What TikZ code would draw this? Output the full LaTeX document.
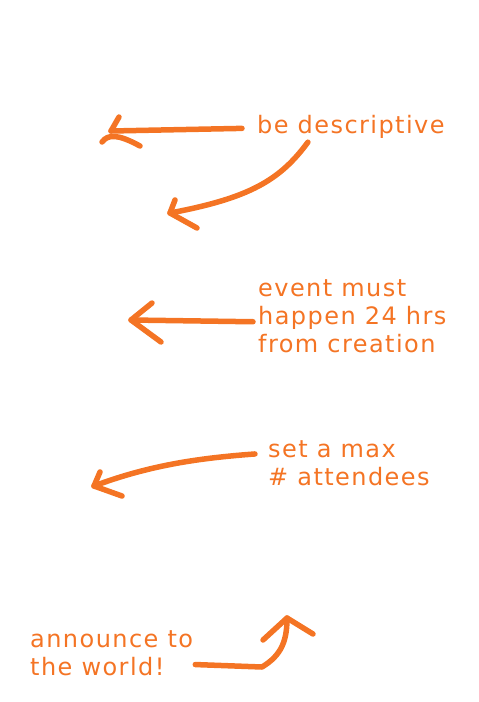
\documentclass[tikz,border=0pt]{standalone}
\usepackage{fontspec}
\setmainfont[LetterSpace=6]{DejaVu Sans}
\usetikzlibrary{positioning}
\definecolor{marker}{HTML}{F47424}

\begin{document}
\begin{tikzpicture}[x=1pt,y=-1pt]
    % Styles for the marker strokes and the notes
    \tikzset{
        pen/.style={draw=marker, line width=5.5pt, line cap=round, line join=round},
        note/.style={text=marker, font=\fontsize{24}{28}\selectfont,
            align=left, inner sep=0pt, anchor=base west}
    }
    \useasboundingbox (0,0) rectangle (479,702);

    % Notes (base = baseline of the last line)
    \node[note] (desc) at (257,133) {be descriptive};
    \node[note] (evt) at (258,352) {event must\\happen 24 hrs\\from creation};
    \node[note] (maxn) at (268,485) {set a max\\\# attendees};
    \node[note] (ann) at (30,675) {announce to\\the world!};

    % Arrow tips
    \coordinate (tipA) at (111,131);
    \coordinate (tipB) at (170,213);
    \coordinate (tipC) at (131,320);
    \coordinate (tipD) at (94,486);
    \coordinate (tipE) at (287,618);

    % Straight arrow to the left
    \draw[pen] ([xshift=-15pt,yshift=-2pt]desc.west) -- (tipA);
    \draw[pen] (119,117) -- (tipA);
    \draw[pen] (102,142) .. controls (108,134) and (118,134) .. (140,146);

    % Curved arrow down
    \draw[pen] ([xshift=-43pt,yshift=-4pt]desc.south) .. controls (280,180) and (250,198) .. (tipB);
    \draw[pen] (175,200) -- (tipB) -- (197,228);

    % Arrow from the 24 hrs note
    \draw[pen] ([xshift=-5pt,yshift=-6pt]evt.west) -- (tipC);
    \draw[pen] (152,303) -- (tipC) -- (161,342);

    % Arrow from the max note
    \draw[pen] ([xshift=-13pt,yshift=-14pt]maxn.north west) .. controls (200,458) and (150,465) .. (tipD);
    \draw[pen] (100,472) -- (tipD) -- (122,496);

    % Arrow going up
    \draw[pen] ([xshift=2pt,yshift=11pt]ann.south east) -- (262,667) .. controls (282,655) and (287,640) .. (tipE);
    \draw[pen] (263,640) -- (tipE) -- (313,634);
\end{tikzpicture}
\end{document}
